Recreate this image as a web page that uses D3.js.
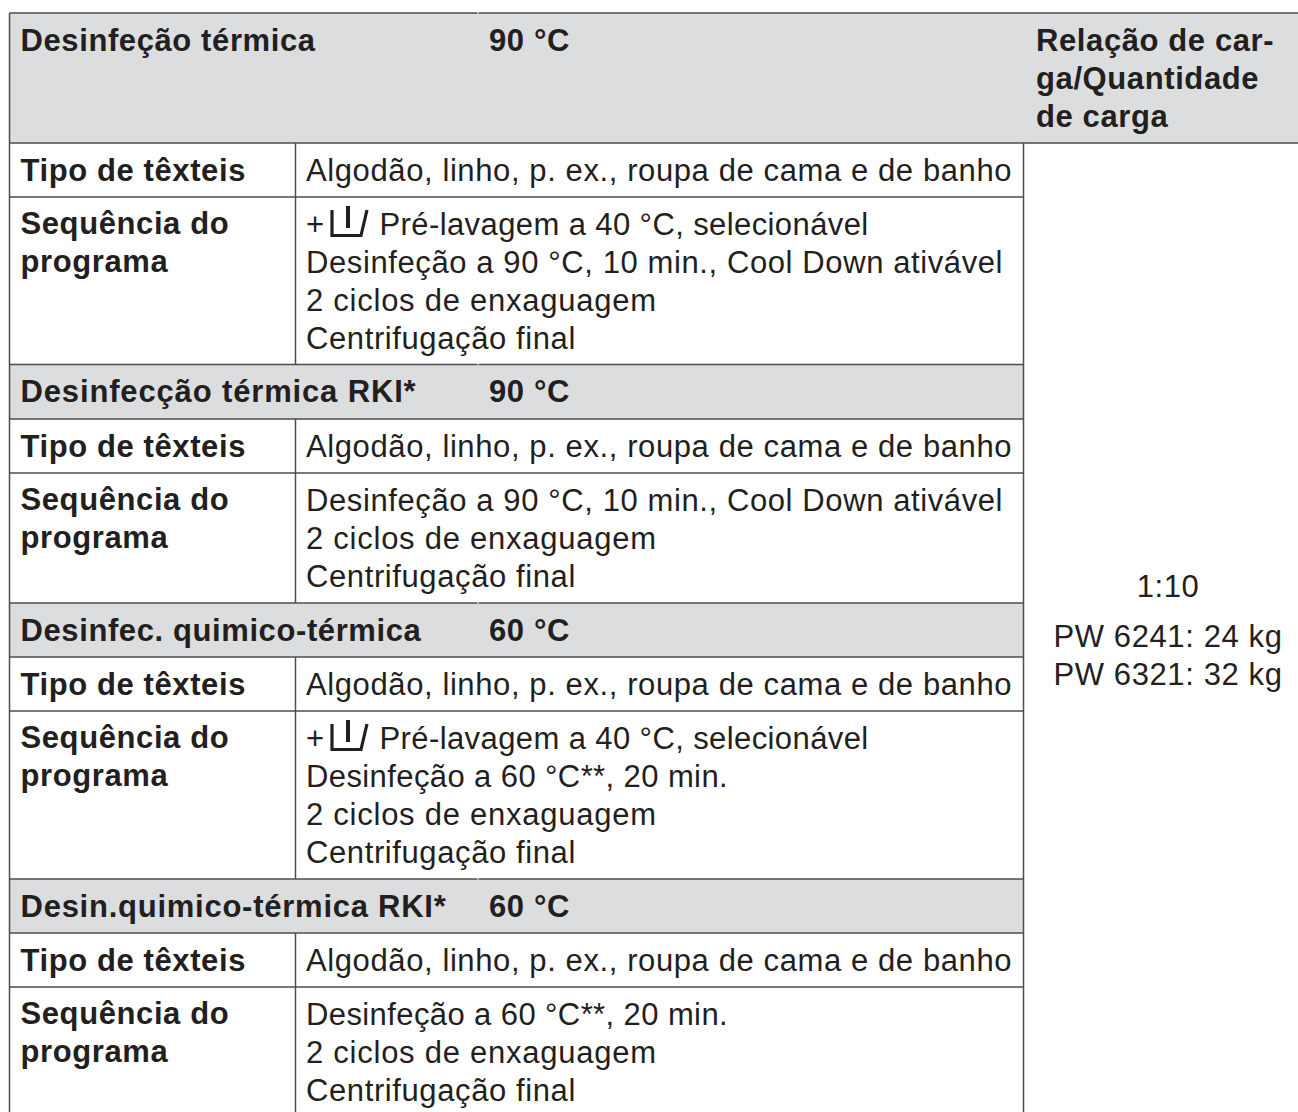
<!DOCTYPE html>
<html>
<head>
<meta charset="utf-8">
<script src="https://cdn.jsdelivr.net/npm/d3@7"></script>
<style>
html, body { margin: 0; padding: 0; background: #fff; }
svg { display: block; }
text { font-family: "Liberation Sans", Arial, sans-serif; fill: #231f20; }
</style>
</head>
<body>
<svg id="chart"></svg>
<script>
// table content, top to bottom
var sectionTitles = ["Desinfeção térmica", "Desinfecção térmica RKI*", "Desinfec. quimico-térmica", "Desin.quimico-térmica RKI*"];
var sectionTemps = ["90 °C", "90 °C", "60 °C", "60 °C"];
var textileLabel = "Tipo de têxteis";
var textileValue = "Algodão, linho, p. ex., roupa de cama e de banho";
var sequenceLabel = ["Sequência do", "programa"];
var sequences = [
    ["Pré-lavagem a 40 °C, selecionável", "Desinfeção a 90 °C, 10 min., Cool Down ativável", "2 ciclos de enxaguagem", "Centrifugação final"],
    ["Desinfeção a 90 °C, 10 min., Cool Down ativável", "2 ciclos de enxaguagem", "Centrifugação final"],
    ["Pré-lavagem a 40 °C, selecionável", "Desinfeção a 60 °C**, 20 min.", "2 ciclos de enxaguagem", "Centrifugação final"],
    ["Desinfeção a 60 °C**, 20 min.", "2 ciclos de enxaguagem", "Centrifugação final"]
];
var hasPrewash = [true, false, true, false];
var loadHeader = ["Relação de car-", "ga/Quantidade", "de carga"];
var loadRatio = "1:10";
var loadAmounts = ["PW 6241: 24 kg", "PW 6321: 32 kg"];

var width = 1298, height = 1112;
var left = 9.5, col1 = 295.5, col2 = 1023.5, right = 1298, notch = 477.5;
var lineH = 38, fontSize = 31, spacing = 0.6, lineColor = "#4d4d4f", grey = "#dcdddf";

// the original typeface runs a bit wider or narrower on these lines
var spacingFix = {
    "Desinfecção térmica RKI*": 0.85,
    "Desin.quimico-térmica RKI*": 0.75,
    "Pré-lavagem a 40 °C, selecionável": 0.4,
    "Desinfeção a 60 °C**, 20 min.": 0.4,
    "2 ciclos de enxaguagem": 0.75
};

var svg = d3.select("#chart").attr("width", width).attr("height", height);

function addText(x, y, str, bold, anchor) {
    svg.append("text")
        .attr("x", x)
        .attr("y", y)
        .attr("text-anchor", anchor || "start")
        .style("font-size", fontSize + "px")
        .style("letter-spacing", (spacingFix[str] || spacing) + "px")
        .style("font-weight", bold ? "bold" : "normal")
        .text(str);
}

function hline(y, x1, x2) {
    svg.append("line").attr("x1", x1).attr("x2", x2).attr("y1", y).attr("y2", y)
        .attr("stroke", lineColor).attr("stroke-width", 1.6);
}

function vline(x, y1, y2) {
    svg.append("line").attr("x1", x).attr("x2", x).attr("y1", y1).attr("y2", y2)
        .attr("stroke", lineColor).attr("stroke-width", 1.5);
}

// the little prewash tub after the plus sign
function tub(x, baseline) {
    addText(x, baseline, "+", false);
    svg.append("path")
        .attr("d", "M" + (x + 26) + " " + (baseline - 25) + "V" + (baseline + 0.5) + "H" + (x + 55) + "L" + (x + 61) + " " + (baseline - 25))
        .attr("fill", "none").attr("stroke", "#231f20").attr("stroke-width", 3.2);
    svg.append("line")
        .attr("x1", x + 42).attr("x2", x + 42).attr("y1", baseline - 29).attr("y2", baseline - 7)
        .attr("stroke", "#231f20").attr("stroke-width", 4);
}

var rowY = d3.scaleOrdinal()
    .domain(sectionTitles)
    .range([13, 364.5, 603, 879]);
var rowEnd = d3.scaleOrdinal()
    .domain(sectionTitles)
    .range([364.5, 603, 879, height]);
var headH = d3.scaleOrdinal()
    .domain(sectionTitles)
    .range([130, 54.5, 54, 54]);

sectionTitles.forEach(function(title, i) {
    var y0 = rowY(title);
    var h0 = headH(title);
    var labelX = left + 11;
    var bandEnd = i == 0 ? right : col2;

    svg.append("rect")
        .attr("x", left)
        .attr("y", y0)
        .attr("width", bandEnd - left)
        .attr("height", h0)
        .attr("fill", grey);
    addText(labelX, y0 + 37.5, title, true);
    addText(489, y0 + 37.5, sectionTemps[i], true);

    var textY = y0 + h0;
    var seqY = textY + 54;
    // top rule of a band has a small break where two table pieces meet
    hline(y0, left, notch);
    hline(y0, notch + 1, bandEnd);
    hline(textY, left, bandEnd);
    hline(seqY, left, col2);
    addText(labelX, textY + 38, textileLabel, true);
    addText(306, textY + 38, textileValue, false);

    sequenceLabel.forEach(function(s, j) {
        addText(labelX, seqY + 37 + j * lineH, s, true);
    });
    sequences[i].forEach(function(s, j) {
        var base = seqY + 38 + j * lineH;
        if (hasPrewash[i] && j == 0) {
            tub(306, base);
            addText(379.5, base, s, false);
        } else {
            addText(306, base, s, false);
        }
    });
    vline(col1, textY, rowEnd(title));
});

// outer verticals
vline(left, 13, height);
vline(col2, 143, height);

loadHeader.forEach(function(s, j) {
    addText(1036, 51 + j * lineH, s, true);
});
addText(1168, 597, loadRatio, false, "middle");
loadAmounts.forEach(function(s, j) {
    addText(1168, 647 + j * lineH, s, false, "middle");
});
</script>
</body>
</html>
